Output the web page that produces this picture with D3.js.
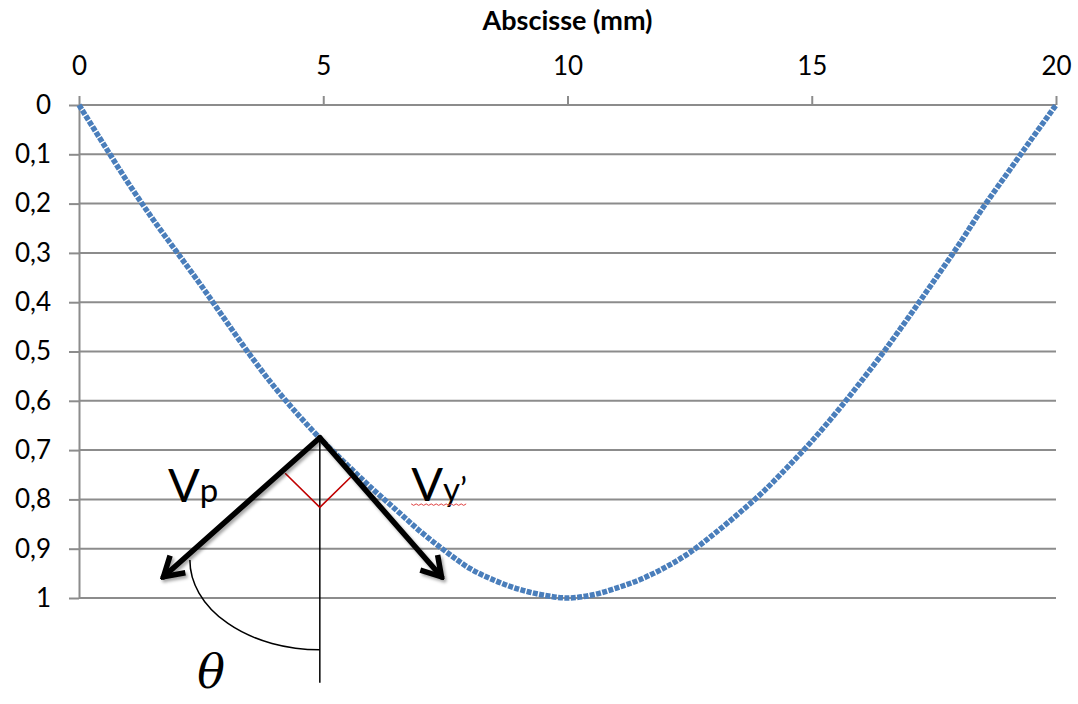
<!DOCTYPE html>
<html><head><meta charset="utf-8">
<script src="https://cdn.jsdelivr.net/npm/d3@7"></script>
<style>
body{margin:0;background:#fff}
text{font-family:Lato,"Open Sans",sans-serif}
</style>
</head><body>
<svg id="c" width="1078" height="704"></svg>
<script>
// ---- data ----
const xTicks = [0, 5, 10, 15, 20];
const yTicks = [0, 0.1, 0.2, 0.3, 0.4, 0.5, 0.6, 0.7, 0.8, 0.9, 1];
const yTickLabels = ["0","0,1","0,2","0,3","0,4","0,5","0,6","0,7","0,8","0,9","1"];
const xTitle = "Abscisse (mm)";
const abscissa = [0,0.5,1,1.5,2,2.5,3,3.5,4,4.5,5,5.5,6,6.5,7,7.5,8,8.5,9,9.5,10,
  10.5,11,11.5,12,12.5,13,13.5,14,14.5,15,15.5,16,16.5,17,17.5,18,18.5,19,19.5,20];
const depth = [0,0.079,0.157,0.230,0.298,0.366,0.437,0.507,0.572,0.630,0.683,0.731,0.778,0.822,0.866,0.905,0.940,0.964,0.982,0.994,1.0,
  0.994,0.980,0.962,0.938,0.908,0.870,0.829,0.785,0.735,0.682,0.624,0.562,0.497,0.428,0.357,0.285,0.209,0.139,0.069,0];

// annotation geometry (in data units)
const apex = [4.93, 0.675];
const tipVp = [1.73, 0.957];
const tipVy = [7.42, 0.957];
const vertEnd = [4.93, 1.172];
const rightAngle = [[4.22, 0.747], [4.93, 0.816], [5.56, 0.755]];
const arcStart = [2.27, 0.923];
const arcEnd = [4.93, 1.105];
const labelVp = [1.82, 0.805];
const labelVy = [6.80, 0.803];
const labelTheta = [2.42, 1.183];

// ---- scales ----
const svg = d3.select("#c");
const x = d3.scaleLinear().domain([0, 20]).range([79, 1056]);
const y = d3.scaleLinear().domain([0, 1]).range([105, 598]);
const grid = "#8c8c8c";

const defs = svg.append("defs");
const f = defs.append("filter").attr("id","sh").attr("x","-20%").attr("y","-20%").attr("width","140%").attr("height","140%");
f.append("feDropShadow").attr("dx",2).attr("dy",2.5).attr("stdDeviation",1.6).attr("flood-color","#000").attr("flood-opacity",0.35);
defs.append("marker").attr("id","ah").attr("markerUnits","userSpaceOnUse")
  .attr("viewBox","-28 -16 32 32").attr("markerWidth",32).attr("markerHeight",32)
  .attr("refX",0).attr("refY",0).attr("orient","auto")
  .append("path").attr("d","M-19,-11.5 L0,0 L-19,11.5").attr("fill","none")
  .attr("stroke","#000").attr("stroke-width",5.5).attr("stroke-linejoin","miter");

// gridlines
svg.append("g").selectAll("line").data(yTicks).join("line")
  .attr("x1", x(0)).attr("x2", x(20)).attr("y1", d => y(d)).attr("y2", d => y(d))
  .attr("stroke", grid).attr("stroke-width", 2);

// axes
const gx = svg.append("g").attr("transform", `translate(0,${y(0)})`)
  .call(d3.axisTop(x).tickValues(xTicks).tickSize(9).tickSizeOuter(0).tickPadding(21));
const gy = svg.append("g").attr("transform", `translate(${x(0)},0)`)
  .call(d3.axisLeft(y).tickValues(yTicks).tickFormat((d,i) => yTickLabels[i]).tickSize(10).tickSizeOuter(0).tickPadding(18));
[gx, gy].forEach(g => {
  g.select(".domain").attr("stroke", grid).attr("stroke-width", 2);
  g.selectAll(".tick line").attr("stroke", grid).attr("stroke-width", 2);
  g.selectAll(".tick text").attr("fill", "#000").style("font-size", "26px").style("font-family", "Lato");
});
gx.select(".domain").remove();

// title
svg.append("text").attr("x", x(10)).attr("y", 30).attr("text-anchor", "middle")
  .style("font-size", "27px").style("font-weight", "bold").text(xTitle);

// curve
const pts = abscissa.map((v, i) => [v, depth[i]]);
svg.append("path").datum(pts)
  .attr("d", d3.line().x(d => x(d[0])).y(d => y(d[1])).curve(d3.curveCatmullRom.alpha(0.5)))
  .attr("fill", "none").attr("stroke", "#4a7ebb").attr("stroke-width", 5.5)
  .attr("stroke-dasharray", "5,1.4");

// annotations
const P = d => [x(d[0]), y(d[1])];
const ann = svg.append("g");
ann.append("line").attr("x1", P(apex)[0]).attr("y1", P(apex)[1]).attr("x2", P(vertEnd)[0]).attr("y2", P(vertEnd)[1])
  .attr("stroke", "#000").attr("stroke-width", 1.5);
ann.append("path").attr("d", d3.line()(rightAngle.map(P))).attr("fill","none").attr("stroke","#c00000").attr("stroke-width",1.6);
const a0 = P(arcStart), a1 = P(arcEnd);
ann.append("path").attr("d", `M${a0[0]},${a0[1]} A${a1[0]-a0[0]},${a1[1]-a0[1]} 0 0,0 ${a1[0]},${a1[1]}`)
  .attr("fill","none").attr("stroke","#000").attr("stroke-width",1.5);
const arrows = ann.append("g").attr("filter","url(#sh)");
[tipVp, tipVy].forEach(t => {
  arrows.append("line").attr("x1", P(apex)[0]).attr("y1", P(apex)[1]).attr("x2", P(t)[0]).attr("y2", P(t)[1])
    .attr("stroke", "#000").attr("stroke-width", 5.5).attr("stroke-linecap","round").attr("marker-end", "url(#ah)");
});

const tVp = ann.append("text").attr("x", P(labelVp)[0]).attr("y", P(labelVp)[1]);
tVp.append("tspan").style("font-size","47px").text("V");
tVp.append("tspan").style("font-size","33px").text("p");
const tVy = ann.append("text").attr("x", P(labelVy)[0]).attr("y", P(labelVy)[1]);
tVy.append("tspan").style("font-size","47px").text("V");
tVy.append("tspan").style("font-size","33px").text("y\u2019");
const bb = tVy.node().getBBox();
let zz = "";
for (let k = 0, xx = bb.x; xx <= bb.x + bb.width; k++, xx += 2.5) zz += (k ? "L" : "M") + xx + "," + (P(labelVy)[1] + 3 + (k % 2 ? 1.5 : 0));
ann.append("path").attr("d", zz).attr("fill","none").attr("stroke","#e04040").attr("stroke-width",1);
ann.append("text").attr("x", P(labelTheta)[0]).attr("y", P(labelTheta)[1])
  .style("font-family","'DejaVu Serif','Liberation Serif',serif").style("font-style","italic").style("font-size","46px").text("\u03b8");
</script>
</body></html>
